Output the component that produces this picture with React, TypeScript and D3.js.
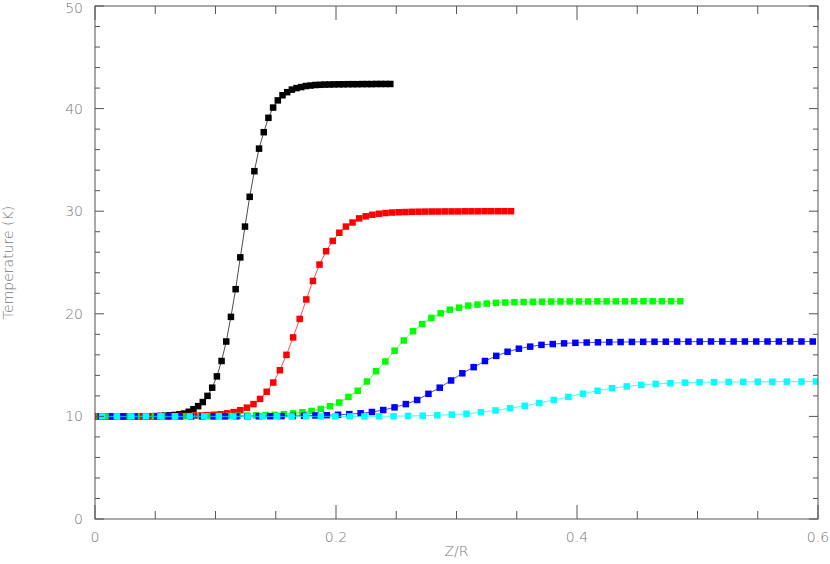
import React from "react";
import * as d3 from "d3";

// ---- data ----
const blackT = [
  10.0, 10.0, 10.0, 10.0, 10.0, 10.0, 10.0, 10.0, 10.01, 10.01, 10.01, 10.02,
  10.02, 10.03, 10.05, 10.07, 10.1, 10.14, 10.2, 10.28, 10.45, 10.7, 11.0, 11.4,
  12.0, 12.8, 13.9, 15.4, 17.3, 19.7, 22.4, 25.5, 28.5, 31.4, 33.9, 36.1, 37.7,
  39.1, 40.1, 40.8, 41.3, 41.6, 41.85, 42.0, 42.1, 42.2, 42.25, 42.3, 42.32,
  42.34, 42.35, 42.36, 42.37, 42.37, 42.38, 42.38, 42.38, 42.39, 42.39, 42.39,
  42.4, 42.4, 42.4, 42.4,
];
const redT = [
  10.0, 10.0, 10.0, 10.0, 10.0, 10.0, 10.0, 10.0, 10.01, 10.01, 10.02, 10.02,
  10.03, 10.04, 10.05, 10.07, 10.09, 10.12, 10.16, 10.21, 10.3, 10.42, 10.6,
  10.85, 11.2, 11.7, 12.4, 13.3, 14.5, 16.0, 17.7, 19.5, 21.4, 23.2, 24.8, 26.1,
  27.1, 27.9, 28.5, 28.9, 29.3, 29.5, 29.65, 29.75, 29.82, 29.87, 29.9, 29.92,
  29.94, 29.95, 29.96, 29.97, 29.97, 29.98, 29.98, 29.98, 29.99, 29.99, 29.99,
  30.0, 30.0, 30.0, 30.0, 30.0,
];
const greenT = [
  10.0, 10.0, 10.0, 10.0, 10.0, 10.0, 10.0, 10.0, 10.01, 10.01, 10.01, 10.02,
  10.02, 10.03, 10.04, 10.06, 10.08, 10.11, 10.13, 10.15, 10.22, 10.3, 10.4,
  10.53, 10.72, 11.0, 11.35, 11.9, 12.5, 13.4, 14.4, 15.35, 16.4, 17.4, 18.3,
  19.0, 19.6, 20.05, 20.4, 20.6, 20.8, 20.9, 21.0, 21.07, 21.1, 21.13, 21.15,
  21.17, 21.18, 21.19, 21.2, 21.2, 21.2, 21.2, 21.21, 21.21, 21.21, 21.21,
  21.22, 21.22, 21.22, 21.22, 21.22, 21.22,
];
const blueT = [
  10.0, 10.0, 10.0, 10.0, 10.0, 10.0, 10.0, 10.0, 10.0, 10.0, 10.0, 10.0,
  10.01, 10.01, 10.01, 10.02, 10.03, 10.04, 10.06, 10.09, 10.12, 10.16, 10.22,
  10.3, 10.43, 10.62, 10.88, 11.2, 11.6, 12.2, 12.8, 13.5, 14.2, 14.8, 15.4,
  15.9, 16.3, 16.6, 16.8, 16.97, 17.05, 17.12, 17.17, 17.2, 17.22, 17.24, 17.25,
  17.26, 17.27, 17.28, 17.28, 17.29, 17.29, 17.29, 17.3, 17.3, 17.3, 17.3,
  17.3, 17.3, 17.3, 17.3, 17.3, 17.3,
];
const cyanT = [
  10.0, 10.0, 10.0, 10.0, 10.0, 10.0, 10.0, 10.0, 10.0, 10.0, 10.0, 10.0, 10.0,
  10.0, 10.0, 10.0, 10.0, 10.0, 10.0, 10.01, 10.02, 10.04, 10.07, 10.11, 10.17,
  10.26, 10.4, 10.58, 10.8, 11.03, 11.3, 11.6, 11.9, 12.22, 12.5, 12.75, 12.92,
  13.07, 13.17, 13.24, 13.29, 13.32, 13.34, 13.36, 13.37, 13.38, 13.38, 13.39,
  13.39, 13.4,
];

// grid of each profile in Z/R: first point and spacing
const seriesNames = ["black", "red", "green", "blue", "cyan"];
const seriesColors = ["#000000", "#ff0000", "#00ff00", "#0000ff", "#00ffff"];
const seriesStart = [0, 0, 0.0038, 0.0047, 0.006];
const seriesStep = [0.00389, 0.00548, 0.00765, 0.00938, 0.01209];
const seriesValues = [blackT, redT, greenT, blueT, cyanT];

const xMajorTicks = [0, 0.2, 0.4, 0.6];
const xTickLabels = ["0", "0.2", "0.4", "0.6"];
const xMinorTicks = [0.05, 0.1, 0.15, 0.25, 0.3, 0.35, 0.45, 0.5, 0.55];
const yMajorTicks = [0, 10, 20, 30, 40, 50];
const yMinorTicks = [2, 4, 6, 8, 12, 14, 16, 18, 22, 24, 26, 28, 32, 34, 36, 38, 42, 44, 46, 48];

const xTitle = "Z/R";
const yTitle = "Temperature (K)";

export default function App() {
  const W = 830;
  const H = 564;
  const L = 95, R = 818, T = 6, B = 519;
  const x = d3.scaleLinear().domain([0, 0.6]).range([L, R]);
  const y = d3.scaleLinear().domain([0, 50]).range([B, T]);
  const line = d3
    .line<[number, number]>()
    .x((d) => x(d[0]))
    .y((d) => y(d[1]));

  const series = seriesValues.map((vals, s) =>
    vals.map((v, i) => [seriesStart[s] + i * seriesStep[s], v] as [number, number])
  );

  const ms = 6.5;
  const axisColor = "#555";
  const textColor = "#777";
  const font = "'DejaVu Sans', sans-serif";

  return (
    <svg
      width={W}
      height={H}
      style={{ position: "absolute", left: 0, top: 0, background: "#fff" }}
    >
      <defs>
        <clipPath id="plotclip">
          <rect x={L} y={T} width={R - L} height={B - T} />
        </clipPath>
      </defs>
      <g clipPath="url(#plotclip)">
        {series.map((pts, s) => (
          <g key={seriesNames[s]}>
            <path d={line(pts) || ""} fill="none" stroke={seriesColors[s]} strokeWidth={1} strokeOpacity={0.7} />
            {pts.map((p, i) => (
              <rect
                key={i}
                x={x(p[0]) - ms / 2}
                y={y(p[1]) - ms / 2}
                width={ms}
                height={ms}
                fill={seriesColors[s]}
              />
            ))}
          </g>
        ))}
      </g>
      {/* frame */}
      <rect x={L} y={T} width={R - L} height={B - T} fill="none" stroke={axisColor} strokeWidth={1} />
      {/* x ticks bottom & top */}
      {xMajorTicks.map((t) => (
        <g key={"xM" + t}>
          <line x1={x(t)} x2={x(t)} y1={B} y2={B - 14} stroke={axisColor} />
          <line x1={x(t)} x2={x(t)} y1={T} y2={T + 14} stroke={axisColor} />
        </g>
      ))}
      {xMinorTicks.map((t) => (
        <g key={"xm" + t}>
          <line x1={x(t)} x2={x(t)} y1={B} y2={B - 8} stroke={axisColor} />
          <line x1={x(t)} x2={x(t)} y1={T} y2={T + 8} stroke={axisColor} />
        </g>
      ))}
      {yMajorTicks.map((t) => (
        <g key={"yM" + t}>
          <line x1={L} x2={L + 9} y1={y(t)} y2={y(t)} stroke={axisColor} />
          <line x1={R} x2={R - 9} y1={y(t)} y2={y(t)} stroke={axisColor} />
        </g>
      ))}
      {yMinorTicks.map((t) => (
        <g key={"ym" + t}>
          <line x1={L} x2={L + 5} y1={y(t)} y2={y(t)} stroke={axisColor} />
          <line x1={R} x2={R - 5} y1={y(t)} y2={y(t)} stroke={axisColor} />
        </g>
      ))}
      {/* tick labels */}
      {xMajorTicks.map((t, i) => (
        <text
          key={"xl" + t}
          x={x(t)}
          y={B + 23}
          textAnchor="middle"
          fontFamily={font}
          fontSize={14}
          fontWeight={200}
          fill={textColor}
        >
          {xTickLabels[i]}
        </text>
      ))}
      {yMajorTicks.map((t) => (
        <text
          key={"yl" + t}
          x={L - 12}
          y={Math.max(y(t) + 5, 13)}
          textAnchor="end"
          fontFamily={font}
          fontSize={14}
          fontWeight={200}
          fill={textColor}
        >
          {t}
        </text>
      ))}
      <text
        x={(L + R) / 2}
        y={556}
        textAnchor="middle"
        fontFamily={font}
        fontSize={14}
        fontWeight={200}
        fill={textColor}
      >
        {xTitle}
      </text>
      <text
        transform={`translate(13, ${(T + B) / 2}) rotate(-90)`}
        textAnchor="middle"
        fontFamily={font}
        fontSize={14}
        fontWeight={200}
        fill={textColor}
      >
        {yTitle}
      </text>
    </svg>
  );
}
